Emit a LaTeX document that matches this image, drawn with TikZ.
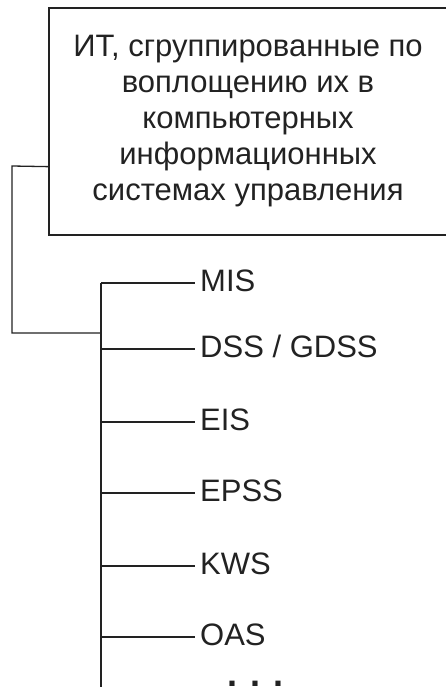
\documentclass[tikz,border=0pt]{standalone}
\usepackage{fontspec}
\setmainfont{Liberation Sans}
\definecolor{ink}{HTML}{222222}
\begin{document}
\begin{tikzpicture}[x=1pt,y=-1pt,
  wire/.style={draw=ink,line width=1.3pt},
  leaf/.style={anchor=base west,inner sep=0pt,text=ink,font=\fontsize{31}{36}\selectfont},
  bigbox/.style={draw=ink,line width=1.3pt,minimum width=398pt,minimum height=227pt,inner sep=0pt,
    align=center,text=ink,font=\fontsize{31}{36}\selectfont}]
\useasboundingbox (0,0) rectangle (445,687);
\node[bigbox] (box) at (248,121.5) {ИТ, сгруппированные по\\воплощению их в\\компьютерных\\информационных\\системах управления};
\coordinate (c1) at (12,166);
\coordinate (c2) at (12,333);
\coordinate (j) at (101,333);
\coordinate (top) at (101,283);
\coordinate (bot) at (101,690);
\draw[wire] ([yshift=69pt]box.south west) -- (c1) -- (c2) -- (j);
\draw[wire] (top) -- (bot);
\foreach \n/\t/\y in {mis/{MIS}/283,dss/{DSS / GDSS}/349,eis/{EIS}/422,epss/{EPSS}/493,kws/{KWS}/566,oas/{OAS}/637}{
  \node[leaf] (\n) at (200,\y+8.5) {\t};
  \coordinate (s\n) at (101,\y);
  \coordinate (e\n) at (195,\y);
  \draw[wire] (s\n) -- (e\n);
}
\node[leaf,font=\bfseries\fontsize{36}{40}\selectfont] (dots) at (227,686) {. . .};
\end{tikzpicture}
\end{document}
